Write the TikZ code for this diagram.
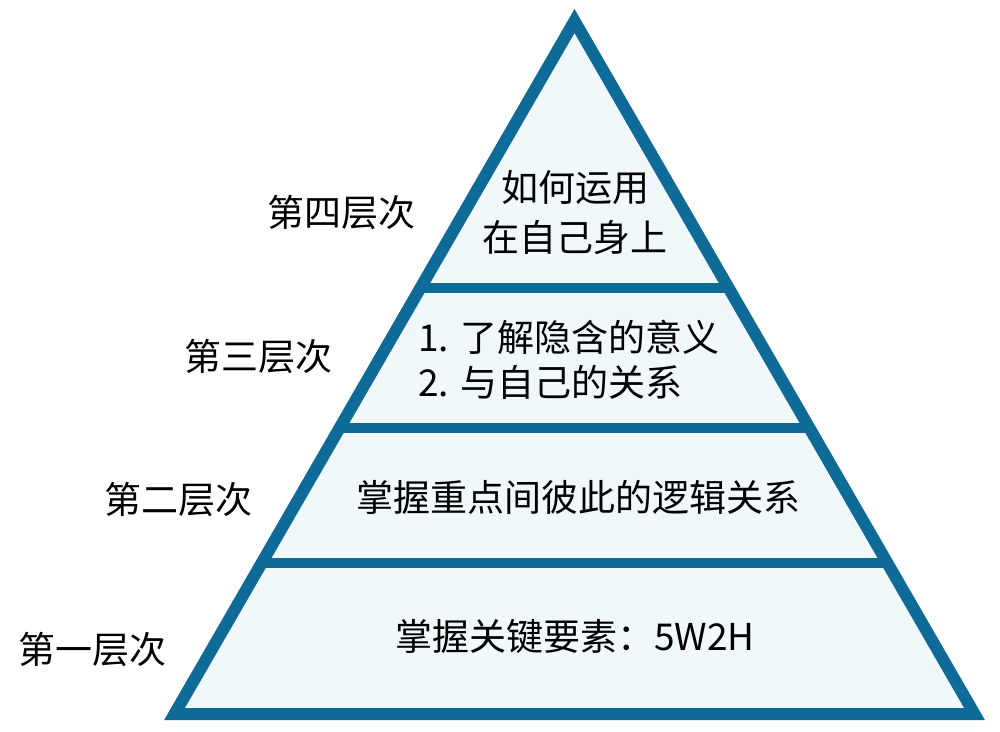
\documentclass[tikz,border=0pt]{standalone}
\usepackage{fontspec}
\newfontfamily\cjk{Noto Sans CJK SC}
\definecolor{edge}{HTML}{0E6A96}
\definecolor{tierfill}{HTML}{F0F8FC}
\begin{document}
\begin{tikzpicture}[x=1pt,y=-1pt,
  lbl/.style={font=\cjk\fontsize{37}{45}\selectfont, text=black, inner sep=0pt},
  divider/.style={draw=edge, line width=10pt},
  outline/.style={draw=edge, line width=12pt, line join=miter, miter limit=10}]
\useasboundingbox (0,0) rectangle (1000,731);
\fill[white] (0,0) rectangle (1000,731);
\coordinate (apex) at (574.5,21);
\coordinate (bl) at (174.5,714);
\coordinate (br) at (974.5,714);
\fill[tierfill] (apex) -- (bl) -- (br) -- cycle;
% dividers
\foreach \n/\y in {a/288,b/428,c/563}{
  \coordinate (L\n) at ({574.5-0.5772*(\y-21)},\y);
  \coordinate (R\n) at ({574.5+0.5772*(\y-21)},\y);
  \draw[divider] (L\n) -- (R\n);
}
\draw[outline] (apex) -- (bl) -- (br) -- cycle;
% texts in tiers
\node[lbl, align=center, font=\cjk\fontsize{37}{50}\selectfont] (t4) at (575,213) {如何运用\\在自己身上};
\node[lbl, align=left, anchor=west] (t3) at (418,360) {1. 了解隐含的意义\\2. 与自己的关系};
\node[lbl] (t2) at (578,497) {掌握重点间彼此的逻辑关系};
\node[lbl] (t1) at (575,636) {掌握关键要素：5W2H};
% side labels
\node[lbl] (s4) at (341,213) {第四层次};
\node[lbl] (s3) at (258,357) {第三层次};
\node[lbl] (s2) at (178,500) {第二层次};
\node[lbl] (s1) at (92,650) {第一层次};
\end{tikzpicture}
\end{document}
